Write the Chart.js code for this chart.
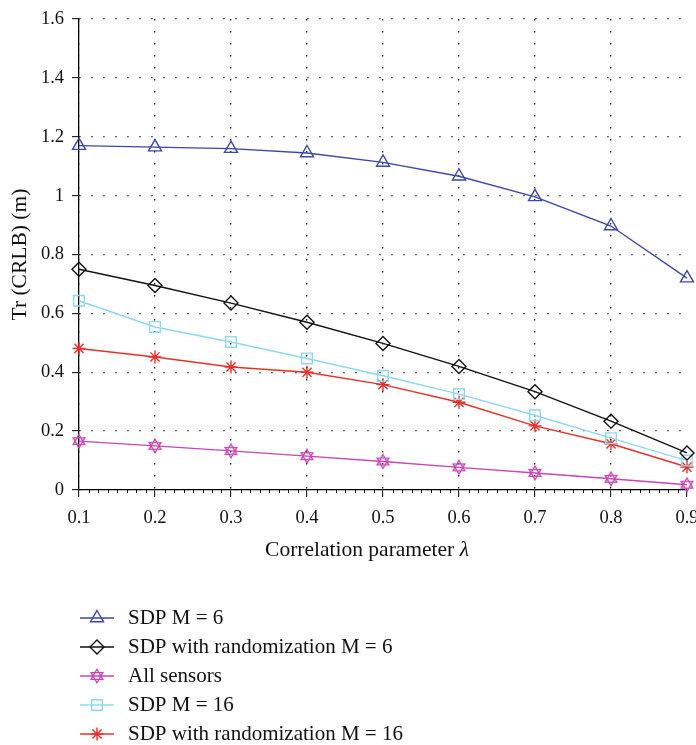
<!DOCTYPE html>
<html>
<head>
<meta charset="utf-8">
<script src="https://cdn.jsdelivr.net/npm/chart.js@4"></script>
<style>
  html, body { margin: 0; padding: 0; background: #fff; overflow: hidden; }
  canvas { display: block; }
</style>
</head>
<body>
<canvas id="myChart" width="710" height="745"></canvas>
<script>
// 데이터
var lambdas = [0.1, 0.2, 0.3, 0.4, 0.5, 0.6, 0.7, 0.8, 0.9];
var sdpM6 = [1.17, 1.165, 1.16, 1.145, 1.113, 1.066, 0.996, 0.897, 0.72];
var sdpRandM6 = [0.75, 0.695, 0.635, 0.57, 0.498, 0.42, 0.334, 0.234, 0.126];
var allSensors = [0.166, 0.15, 0.133, 0.115, 0.097, 0.077, 0.058, 0.038, 0.018];
var sdpM16 = [0.643, 0.554, 0.503, 0.447, 0.388, 0.326, 0.254, 0.176, 0.1];
var sdpRandM16 = [0.481, 0.452, 0.418, 0.4, 0.358, 0.298, 0.218, 0.157, 0.078];
var yTicks = [0, 0.2, 0.4, 0.6, 0.8, 1, 1.2, 1.4, 1.6];

var FONT = "'Liberation Serif', 'DejaVu Serif', serif";

function pts(arr) {
  return arr.map(function (v, i) { return { x: lambdas[i], y: v }; });
}

// 육각별 마커
function hexagram(color) {
  var c = document.createElement("canvas");
  c.width = 16; c.height = 16;
  var g = c.getContext("2d");
  g.strokeStyle = color;
  g.lineWidth = 1.3;
  var r = 6.8, cx = 8, cy = 8;
  [-Math.PI / 2, Math.PI / 2].forEach(function (a0) {
    g.beginPath();
    for (var k = 0; k < 3; k++) {
      var a = a0 + k * 2 * Math.PI / 3;
      var px = cx + r * Math.cos(a), py = cy + r * Math.sin(a);
      if (k === 0) g.moveTo(px, py); else g.lineTo(px, py);
    }
    g.closePath();
    g.stroke();
  });
  return c;
}

function ds(label, data, color, style, radius) {
  return {
    label: label,
    data: pts(data),
    borderColor: color,
    backgroundColor: "rgba(255,255,255,0)",
    borderWidth: 1.4,
    pointStyle: style,
    pointRadius: radius,
    pointHoverRadius: radius,
    pointBorderColor: color,
    pointBackgroundColor: "rgba(255,255,255,0)",
    pointBorderWidth: 1.4,
    clip: false,
  };
}

var datasets = [
  ds("SDP M = 6", sdpM6, "#3d47a8", "triangle", 7.5),
  ds("SDP with randomization M = 6", sdpRandM6, "#111111", "rectRot", 7),
  ds("All sensors", allSensors, "#c845b4", hexagram("#c845b4"), 7),
  ds("SDP M = 16", sdpM16, "#8ed8ea", "rect", 7.5),
  ds("SDP with randomization M = 16", sdpRandM16, "#e8302a", "star", 6.5),
];

// 보조 눈금, x축 제목, 범례
var extras = {
  id: "extras",
  afterDraw: function (chart) {
    var ctx = chart.ctx;
    var xs = chart.scales.x;
    var area = chart.chartArea;
    ctx.save();
    ctx.strokeStyle = "#000";
    ctx.lineWidth = 1;
    for (var k = 1; k < 64; k++) {
      if (k % 8 === 0) continue;
      var px = Math.round(xs.getPixelForValue(0.1 + k * 0.0125)) + 0.5;
      ctx.beginPath();
      ctx.moveTo(px, area.bottom);
      ctx.lineTo(px, area.bottom + 3);
      ctx.stroke();
    }

    // x축 제목
    ctx.fillStyle = "#111";
    ctx.textBaseline = "middle";
    ctx.font = "21.5px " + FONT;
    var t1 = "Correlation parameter ";
    var w1 = ctx.measureText(t1).width;
    ctx.font = "italic 21.5px " + FONT;
    var w2 = ctx.measureText("\u03bb").width;
    var x0 = 367 - (w1 + w2) / 2;
    ctx.font = "21.5px " + FONT;
    ctx.textAlign = "left";
    ctx.fillText(t1, x0, 550);
    ctx.font = "italic 21.5px " + FONT;
    ctx.fillText("\u03bb", x0 + w1, 550);

    // 범례
    chart.data.datasets.forEach(function (d, i) {
      var y = 618 + i * 29;
      ctx.strokeStyle = d.borderColor;
      ctx.lineWidth = d.borderWidth;
      ctx.setLineDash([]);
      ctx.beginPath();
      ctx.moveTo(80, y);
      ctx.lineTo(114, y);
      ctx.stroke();
      ctx.fillStyle = "rgba(255,255,255,0)";
      ctx.lineWidth = d.pointBorderWidth;
      Chart.helpers.drawPoint(ctx, {
        pointStyle: d.pointStyle,
        rotation: 0,
        radius: d.pointRadius,
        borderWidth: d.pointBorderWidth,
      }, 97, y);
      ctx.fillStyle = "#111";
      ctx.font = "21px " + FONT;
      ctx.textAlign = "left";
      ctx.textBaseline = "middle";
      ctx.fillText(d.label, 128, y);
    });
    ctx.restore();
  },
};

var ctx = document.getElementById("myChart").getContext("2d");
var chart = new Chart(ctx, {
  type: "line",
  data: { datasets: datasets },
  options: {
    responsive: false,
    animation: false,
    events: [],
    layout: { padding: { left: 0, top: 12, right: 23, bottom: 205 } },
    plugins: { legend: { display: false }, tooltip: { enabled: false } },
    scales: {
      x: {
        type: "linear",
        min: 0.1,
        max: 0.9,
        afterFit: function (s) { s.height = 50; },
        ticks: {
          stepSize: 0.1,
          color: "#111",
          padding: 10,
          font: { family: FONT, size: 18.5 },
          callback: function (v) { return (+v).toFixed(1); },
        },
        grid: {
          color: function (c) { return c.index === 8 ? "rgba(0,0,0,0)" : "#111"; },
          lineWidth: 1.3,
          tickColor: "#000",
          tickLength: 7,
          tickBorderDash: [],
          tickWidth: 1,
        },
        border: { display: true, color: "#000", width: 1.3, dash: [1.3, 10.7] },
      },
      y: {
        min: 0,
        max: 1.6,
        afterFit: function (s) { s.width = 79; },
        afterBuildTicks: function (s) {
          s.ticks = yTicks.map(function (v) { return { value: v }; });
        },
        ticks: {
          color: "#111",
          padding: 8,
          font: { family: FONT, size: 18.5 },
          callback: function (v) { return String(+(+v).toFixed(1)); },
        },
        grid: {
          color: "#111",
          lineWidth: 1.3,
          tickColor: "#000",
          tickLength: 7,
          tickBorderDash: [],
          tickWidth: 1,
        },
        border: { display: true, color: "#000", width: 1.3, dash: [1.3, 10.7] },
        title: {
          display: true,
          text: "Tr (CRLB) (m)",
          color: "#111",
          font: { family: FONT, size: 21.5 },
          padding: { top: 7, bottom: 0 },
        },
      },
    },
  },
  plugins: [extras],
});
</script>
</body>
</html>
